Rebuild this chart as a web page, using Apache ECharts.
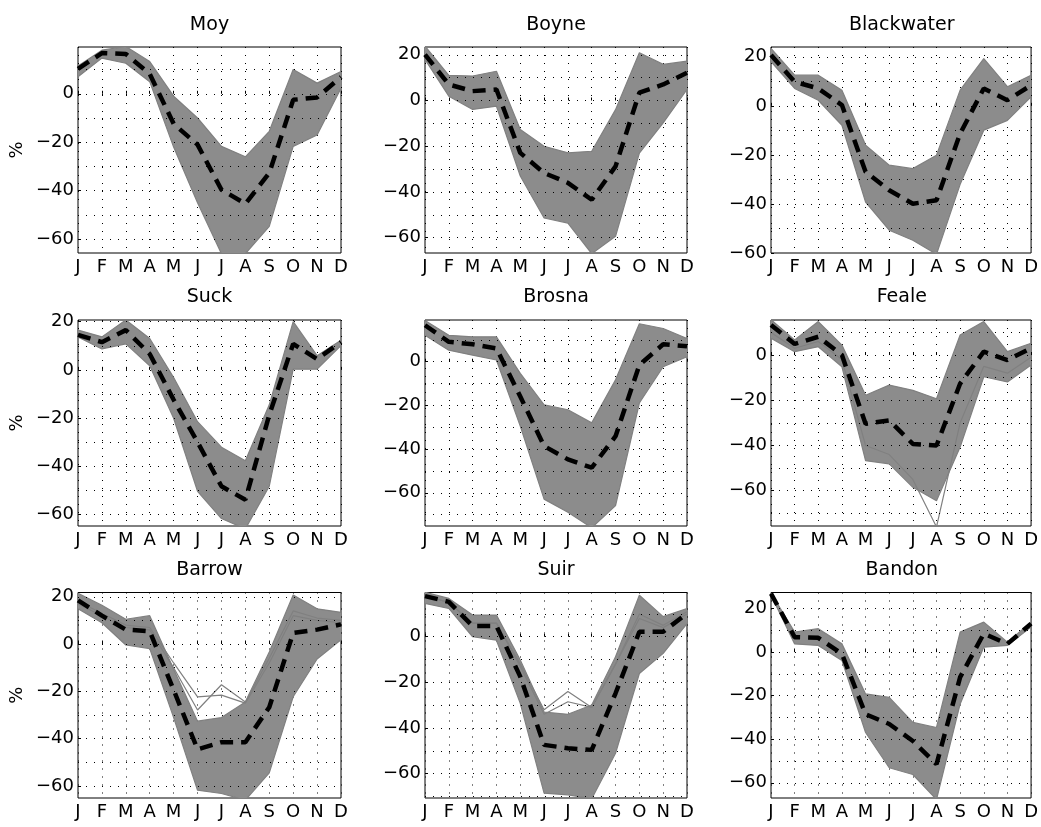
<!DOCTYPE html>
<html>
<head>
<meta charset="utf-8">
<script src="https://cdn.jsdelivr.net/npm/echarts@6/dist/echarts.min.js"></script>
<style>
html, body { margin: 0; padding: 0; background: #fff; }
#main { width: 1041px; height: 827px; }
</style>
</head>
<body>
<div id="main"></div>
<script>
// month letters on the x axis
var months = ['J', 'F', 'M', 'A', 'M', 'J', 'J', 'A', 'S', 'O', 'N', 'D'];

// dashed black line = ensemble mean, hi / lo = edges of the grey ensemble band
var meanMoy = [10.3, 16.8, 16.4, 8.2, -12.4, -21, -39.6, -45.4, -32.7, -2.5, -1.5, 6.9];
var hiMoy   = [11.5, 18, 19.5, 13.3, -1, -10, -21.7, -26, -15.5, 10, 4.4, 9.2];
var loMoy   = [7, 14.7, 12.6, 5, -22, -45, -66, -66, -54.7, -21.7, -17, 2.3];

var meanBoyne = [20.1, 7, 4.1, 4.8, -22.9, -31.7, -36, -43.4, -28.8, 3.4, 7, 12.1];
var hiBoyne   = [23.8, 11, 10.7, 12.8, -12.7, -20, -22.9, -22.2, -4, 20.9, 15.8, 17.2];
var loBoyne   = [18, 1.9, -3.9, -2.5, -33, -51.4, -53.6, -67, -59.4, -23, -9.8, 4.8];

var meanBlackwater = [20.7, 9.8, 7.1, 0.3, -26.9, -34.4, -39.9, -38.5, -11.3, 7.1, 2.3, 8.4];
var hiBlackwater   = [23.4, 12.5, 12.5, 6.4, -16, -24.2, -25.6, -20.1, 6.4, 19.3, 7.8, 12.5];
var loBlackwater   = [18, 7.1, 2.3, -7.9, -39.2, -50.7, -54.8, -60.5, -32, -9.9, -5.9, 3.7];

var meanSuck = [14.5, 11.5, 16.5, 6.6, -12.4, -30, -48.3, -53.9, -18.7, 10.8, 4.5, 11.5];
var hiSuck   = [16.5, 13.7, 20.7, 13, -3.2, -21.5, -32.1, -37.7, -14.5, 20, 5.9, 12.3];
var loSuck   = [13.7, 8.7, 10.8, 1.7, -20.1, -50.4, -61.7, -66, -48.3, 0.3, 0.3, 10.1];

var meanBrosna = [16.7, 9.1, 8, 6.1, -15.9, -38.6, -44.7, -48.5, -34.1, -1.5, 8, 7.1];
var hiBrosna   = [18.9, 12.1, 11.4, 11.4, -5.3, -19.7, -22, -28, -8.3, 17.4, 15.2, 10.6];
var loBrosna   = [12.1, 5.3, 3, 0.8, -29.5, -62.9, -68.9, -76, -65.9, -18.9, -2.3, 2.3];

var meanFeale  = [13.3, 4.9, 8.1, 0, -30.4, -28.9, -39.3, -40, -12.6, 1.5, -2.2, 3];
var hiFeale    = [15.6, 6.7, 14.8, 4.4, -17.8, -13.3, -15.6, -19.3, 8.9, 14.8, 1.5, 5.2];
var loFeale    = [7.4, 1.5, 3.7, -5.2, -46.7, -48.1, -58.5, -64.4, -40.7, -9.6, -11.9, -4.4];
var extraFeale = [10, 3, 6, -2, -40, -44, -55, -76, -30, -5, -8, -1];

var meanBarrow   = [18.5, 12, 6.1, 5.4, -19.4, -44.5, -41.5, -41.5, -26.7, 4.7, 6.1, 8.3];
var hiBarrow     = [21.5, 16.4, 10.5, 12, -10.7, -32.6, -31.1, -24.5, -3.4, 20.7, 14.9, 13.4];
var loBarrow     = [14.9, 9, -0.4, -1.9, -31.1, -61.8, -63.2, -66, -54.5, -22.3, -6.3, 1.8];
var extraBarrow1 = [18, 13, 8, 7, -8, -22.3, -21.6, -25, -8, 12, 10, 9];
var extraBarrow2 = [17, 12, 7, 6, -10, -27.9, -17.2, -24.5, -6, 14, 11, 10];

var meanSuir   = [17.8, 15.3, 4.7, 4.7, -17.5, -47.4, -48.9, -49.6, -24.8, 2.2, 2.2, 10.2];
var hiSuir     = [19.5, 16.8, 9.5, 9.5, -10.2, -33, -34, -29.9, -8.8, 18.2, 8.8, 12.4];
var loSuir     = [14.6, 12.4, 0, -1.5, -29.2, -68.6, -69.3, -71, -51.1, -16.1, -7.3, 5.8];
var extraSuir1 = [18, 15, 6, 6, -12, -32, -24, -31, -12, 10, 5, 11];
var extraSuir2 = [18, 15, 6, 6, -13, -34, -28.5, -31, -12, 8, 4, 10];

var meanBandon = [26.9, 6.9, 6.6, -0.8, -28.5, -33, -40.8, -51.5, -11.5, 8.5, 3.8, 13.1];
var hiBandon   = [27.2, 9.2, 10.8, 3.8, -19.2, -20.8, -32.3, -34.6, 9.2, 13.8, 4.6, 13.8];
var loBandon   = [26.2, 3.8, 3.1, -3.8, -36.9, -53.1, -56.2, -67.7, -23.8, 2.3, 3.1, 11.5];

// y ranges and labelled ticks of each panel
var yMin = [-65.7, -66.7, -60, -64.8, -75.2, -75.6, -65.1, -70.7, -67];
var yMax = [19.3, 23.4, 24, 20.7, 19.1, 15.5, 21.8, 19.4, 27.4];
var ticksA = [-60, -40, -20, 0];
var ticksB = [-60, -40, -20, 0, 20];

var panels = [
    { name: 'Moy',        mean: meanMoy,        hi: hiMoy,        lo: loMoy,        extra: [],                          ticks: ticksA },
    { name: 'Boyne',      mean: meanBoyne,      hi: hiBoyne,      lo: loBoyne,      extra: [],                          ticks: ticksB },
    { name: 'Blackwater', mean: meanBlackwater, hi: hiBlackwater, lo: loBlackwater, extra: [],                          ticks: ticksB },
    { name: 'Suck',       mean: meanSuck,       hi: hiSuck,       lo: loSuck,       extra: [],                          ticks: ticksB },
    { name: 'Brosna',     mean: meanBrosna,     hi: hiBrosna,     lo: loBrosna,     extra: [],                          ticks: ticksA },
    { name: 'Feale',      mean: meanFeale,      hi: hiFeale,      lo: loFeale,      extra: [extraFeale],                ticks: ticksA },
    { name: 'Barrow',     mean: meanBarrow,     hi: hiBarrow,     lo: loBarrow,     extra: [extraBarrow1, extraBarrow2], ticks: ticksB },
    { name: 'Suir',       mean: meanSuir,       hi: hiSuir,       lo: loSuir,       extra: [extraSuir1, extraSuir2],     ticks: ticksA },
    { name: 'Bandon',     mean: meanBandon,     hi: hiBandon,     lo: loBandon,     extra: [],                          ticks: ticksB }
];

var FONT = '"DejaVu Sans", Verdana, sans-serif';
var lefts = [78, 425, 771];
var widths = [263, 262, 261.5];
var tops = [47, 320, 592.5];
var heights = [206, 206, 205.5];
var titleY = [25, 297, 570];
var GREY = '#808080';
var DOTS = [1, 7];

function pairs(arr) {
    return arr.map(function (v, i) { return [i, v]; });
}
function minus(v) {
    return String(v).replace('-', '\u2212');
}

// polygon between the hi and lo edges, placed through the axis scales
function bandRenderer(hi, lo) {
    return function (params, api) {
        var pts = [];
        hi.forEach(function (v, k) { pts.push(api.coord([k, v])); });
        for (var k = lo.length - 1; k >= 0; k--) pts.push(api.coord([k, lo[k]]));
        var cs = params.coordSys;
        return {
            type: 'polygon',
            shape: { points: pts },
            style: { fill: '#8c8c8c', stroke: null },
            clipPath: { type: 'rect', shape: { x: cs.x, y: cs.y, width: cs.width, height: cs.height } }
        };
    };
}

var option = {
    animation: false,
    backgroundColor: '#fff',
    grid: [], xAxis: [], yAxis: [], series: [], graphic: []
};

panels.forEach(function (p, i) {
    var r = Math.floor(i / 3), c = i % 3;
    option.grid.push({
        left: lefts[c], top: tops[r], width: widths[c], height: heights[r],
        show: true, borderColor: '#000', borderWidth: 1, backgroundColor: 'transparent'
    });
    option.xAxis.push({
        type: 'value', gridIndex: i, min: 0, max: 11, interval: 1,
        axisLine: { show: false },
        axisTick: { inside: true, length: 3, lineStyle: { color: '#000' } },
        axisLabel: {
            margin: 5, color: '#000', fontFamily: FONT, fontSize: 18,
            formatter: function (v) { return months[v]; }
        },
        splitLine: { show: true, lineStyle: { color: '#000', width: 1, type: DOTS } }
    });
    option.yAxis.push({
        type: 'value', gridIndex: i, min: yMin[i], max: yMax[i],
        axisLine: { show: false },
        axisTick: { inside: true, length: 3, customValues: p.ticks, lineStyle: { color: '#000' } },
        axisLabel: {
            customValues: p.ticks, margin: 4, color: '#000', fontFamily: FONT, fontSize: 18,
            formatter: minus
        },
        splitLine: { show: false },
        name: c === 0 ? '%' : '', nameLocation: 'middle', nameGap: 52, nameRotate: 90,
        nameTextStyle: { color: '#000', fontFamily: FONT, fontSize: 18 }
    });

    // dotted horizontal grid every 10 %
    var gridVals = [];
    for (var g = Math.ceil(yMin[i] / 10) * 10; g < yMax[i]; g += 10) {
        if (g > yMin[i]) gridVals.push({ yAxis: g });
    }
    option.series.push({
        type: 'line', xAxisIndex: i, yAxisIndex: i, data: pairs(p.lo), symbol: 'none',
        lineStyle: { opacity: 0 }, silent: true, z: 1,
        markLine: {
            silent: true, symbol: 'none', label: { show: false },
            lineStyle: { color: '#000', width: 1, type: DOTS },
            emphasis: { disabled: true },
            data: gridVals
        }
    });

    // grey ensemble band
    option.series.push({
        type: 'custom', xAxisIndex: i, yAxisIndex: i, data: [[0, p.hi[0]]],
        renderItem: bandRenderer(p.hi, p.lo), silent: true, z: 2
    });

    [p.hi, p.lo].concat(p.extra).forEach(function (arr) {
        option.series.push({
            type: 'line', xAxisIndex: i, yAxisIndex: i, data: pairs(arr), symbol: 'none',
            lineStyle: { color: GREY, width: 1.2 }, silent: true, z: 3
        });
    });

    option.series.push({
        type: 'line', xAxisIndex: i, yAxisIndex: i, data: pairs(p.mean), symbol: 'none',
        lineStyle: { color: '#000', width: 4.5, type: [13, 8] }, silent: true, z: 4
    });

    option.graphic.push({
        type: 'text', x: lefts[c] + widths[c] / 2, y: titleY[r],
        style: {
            text: p.name, fill: '#000', font: '19px ' + FONT,
            align: 'center', verticalAlign: 'middle'
        }
    });
});

var chart = echarts.init(document.getElementById('main'));
chart.setOption(option);
</script>
</body>
</html>
